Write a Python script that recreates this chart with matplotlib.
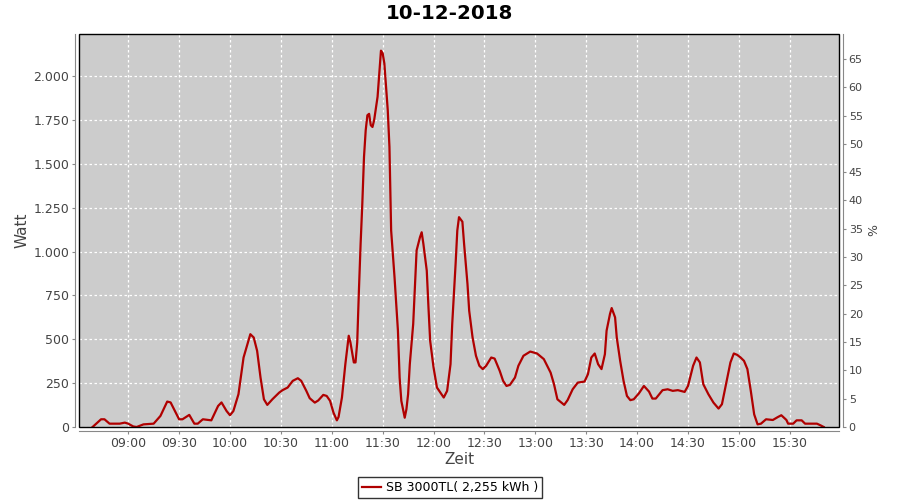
import matplotlib
matplotlib.use("Agg")
import matplotlib.pyplot as plt
import matplotlib.dates as mdates
from matplotlib.ticker import FuncFormatter, MultipleLocator
from matplotlib.patches import Rectangle
from datetime import datetime

day = "2018-12-10"
times = ["08:39", "08:44", "08:46", "08:49", "08:55", "08:58", "09:00", "09:03", "09:05", "09:09",
         "09:15", "09:19", "09:23", "09:25", "09:30", "09:32", "09:36", "09:39", "09:41", "09:44",
         "09:49", "09:53", "09:55", "09:58", "10:00", "10:02", "10:05", "10:08", "10:12", "10:14",
         "10:16", "10:18", "10:20", "10:22", "10:25", "10:29", "10:31", "10:34", "10:37", "10:40",
         "10:42", "10:45", "10:47", "10:50", "10:52", "10:55", "10:57", "10:59", "11:01", "11:03",
         "11:04", "11:06", "11:08", "11:10", "11:11", "11:13", "11:14", "11:15", "11:16", "11:17",
         "11:18", "11:19", "11:20", "11:21", "11:22", "11:23", "11:24", "11:25", "11:27", "11:28",
         "11:29", "11:30", "11:31", "11:33", "11:34", "11:35", "11:37", "11:39", "11:40", "11:41",
         "11:43", "11:44", "11:45", "11:46", "11:48", "11:49", "11:50", "11:52", "11:53", "11:54",
         "11:56", "11:57", "11:58", "12:00", "12:02", "12:04", "12:06", "12:08", "12:10", "12:11",
         "12:13", "12:14", "12:15", "12:17", "12:18", "12:20", "12:21", "12:23", "12:25", "12:27",
         "12:29", "12:31", "12:34", "12:36", "12:39", "12:41", "12:43", "12:45", "12:48", "12:50",
         "12:53", "12:57", "13:01", "13:05", "13:09", "13:11", "13:13", "13:17", "13:19", "13:22",
         "13:25", "13:29", "13:31", "13:33", "13:35", "13:37", "13:39", "13:41", "13:42", "13:44",
         "13:45", "13:47", "13:48", "13:50", "13:52", "13:54", "13:56", "13:58", "14:01", "14:04",
         "14:07", "14:09", "14:11", "14:15", "14:18", "14:21", "14:24", "14:28", "14:30", "14:33",
         "14:35", "14:37", "14:39", "14:42", "14:45", "14:48", "14:50", "14:52", "14:55", "14:57",
         "14:59", "15:01", "15:03", "15:05", "15:07", "15:09", "15:11", "15:13", "15:16", "15:20",
         "15:23", "15:25", "15:28", "15:29", "15:32", "15:34", "15:37", "15:39", "15:46", "15:48",
         "15:50"]
watt = [0, 44, 44, 19, 19, 25, 19, 3, 0, 15,
        19, 63, 145, 140, 44, 44, 69, 19, 19, 44,
        38, 120, 140, 91, 67, 91, 187, 396, 529, 510,
        434, 282, 158, 126, 158, 196, 210, 225, 263, 278,
        263, 206, 164, 139, 151, 183, 177, 149, 82, 38,
        57, 168, 358, 520, 482, 368, 368, 482, 777, 1044,
        1272, 1539, 1691, 1777, 1785, 1720, 1710, 1750, 1882, 2015,
        2145, 2130, 2072, 1806, 1596, 1120, 853, 549, 282, 149,
        53, 101, 187, 358, 587, 796, 1006, 1082, 1110, 1044,
        891, 682, 491, 339, 225, 196, 168, 206, 358, 587,
        930, 1120, 1196, 1170, 1044, 815, 663, 510, 406, 349,
        330, 349, 396, 390, 320, 263, 234, 240, 282, 349,
        406, 430, 419, 387, 310, 244, 158, 126, 153, 215,
        253, 259, 301, 396, 419, 358, 330, 415, 549, 644,
        678, 625, 510, 377, 263, 177, 153, 158, 191, 234,
        202, 162, 162, 210, 215, 206, 210, 200, 234, 349,
        396, 368, 244, 187, 139, 105, 130, 225, 368, 419,
        411, 396, 377, 330, 206, 72, 15, 19, 44, 40,
        57, 67, 40, 19, 19, 38, 38, 19, 19, 10,
        0]
series_label = "SB 3000TL( 2,255 kWh )"
title = "10-12-2018"

x = [datetime.strptime(day + " " + t, "%Y-%m-%d %H:%M") for t in times]

fig = plt.figure(figsize=(9, 5), dpi=100)
ax = fig.add_axes([79 / 900, 1 - 427 / 500, 760 / 900, 393 / 500])
ax.set_facecolor("#cccccc")

line, = ax.plot(x, watt, color="#b00000", linewidth=1.6, label=series_label)

ax.set_xlim(datetime(2018, 12, 10, 8, 31), datetime(2018, 12, 10, 15, 59))
ax.set_ylim(0, 2240)
ax.xaxis.set_major_locator(mdates.MinuteLocator(byminute=[0, 30]))
ax.xaxis.set_major_formatter(mdates.DateFormatter("%H:%M"))
ax.yaxis.set_major_locator(MultipleLocator(250))
ax.yaxis.set_major_formatter(FuncFormatter(lambda v, p: "{:,.0f}".format(v).replace(",", ".")))
ax.grid(True, color="white", linestyle=(0, (2, 2)), linewidth=0.9)

for s in ["top", "right"]:
    ax.spines[s].set_visible(False)
for s in ["left", "bottom"]:
    ax.spines[s].set_position(("outward", 3))
    ax.spines[s].set_color("#888888")
ax.add_patch(Rectangle((0, 0), 1, 1, transform=ax.transAxes, fill=False,
                       edgecolor="black", linewidth=1.0, clip_on=False, zorder=5))

ax.tick_params(axis="both", colors="#888888", labelcolor="#444444", labelsize=9, length=2, pad=2)
ax.set_xlabel("Zeit", fontsize=11, color="#444444", labelpad=2)
ax.set_ylabel("Watt", fontsize=11, color="#444444", labelpad=3)

ax2 = ax.twinx()
ax2.set_ylim(0, 69.4)
ax2.yaxis.set_major_locator(MultipleLocator(5))
for s in ["top", "left", "bottom"]:
    ax2.spines[s].set_visible(False)
ax2.spines["right"].set_position(("outward", 3))
ax2.spines["right"].set_color("#888888")
ax2.tick_params(axis="y", colors="#888888", labelcolor="#444444", labelsize=8, length=2, pad=2)
ax2.set_ylabel("%", fontsize=9, color="#444444", labelpad=3)

fig.suptitle(title, fontsize=14.3, fontweight="bold", y=0.992)
leg = fig.legend(handles=[line], loc="lower center", bbox_to_anchor=(0.5, -0.008),
                 fontsize=9, frameon=True, fancybox=False, handlelength=1.5,
                 borderpad=0.3, handletextpad=0.4)
leg.get_frame().set_edgecolor("black")
leg.get_frame().set_linewidth(1.0)

fig.savefig("out.png", dpi=100)
